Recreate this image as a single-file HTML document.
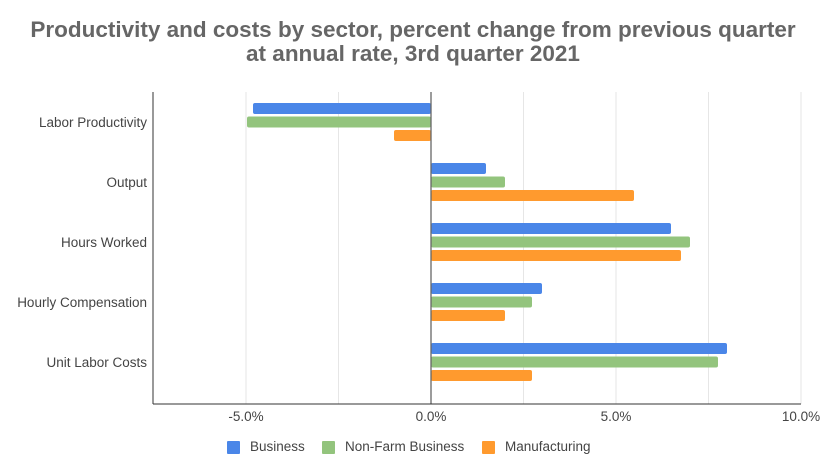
<!DOCTYPE html>
<html><head><meta charset="utf-8"><style>body{margin:0;background:#fff}svg{display:block}</style></head><body>
<svg width="825" height="476" xmlns="http://www.w3.org/2000/svg" font-family="Liberation Sans, Arial, sans-serif">
<rect width="825" height="476" fill="#fff"/>
<text x="413" y="37" text-anchor="middle" font-size="22.5" font-weight="bold" fill="#666">Productivity and costs by sector, percent change from previous quarter</text>
<text x="413" y="61" text-anchor="middle" font-size="22.5" font-weight="bold" fill="#666">at annual rate, 3rd quarter 2021</text>
<g stroke="#e6e6e6" stroke-width="1">
<line x1="246" y1="92" x2="246" y2="404"/><line x1="338.5" y1="92" x2="338.5" y2="404"/>
<line x1="523.5" y1="92" x2="523.5" y2="404"/><line x1="616" y1="92" x2="616" y2="404"/>
<line x1="708.5" y1="92" x2="708.5" y2="404"/><line x1="801" y1="92" x2="801" y2="404"/>
</g>
<g>
<rect x="253" y="103" width="178" height="11" rx="2" fill="#4a86e8"/>
<rect x="247" y="116.5" width="184" height="11" rx="2" fill="#93c47d"/>
<rect x="394" y="130" width="37" height="11" rx="2" fill="#ff9a2e"/>
<rect x="431" y="163" width="55" height="11" rx="2" fill="#4a86e8"/>
<rect x="431" y="176.5" width="74" height="11" rx="2" fill="#93c47d"/>
<rect x="431" y="190" width="203" height="11" rx="2" fill="#ff9a2e"/>
<rect x="431" y="223" width="240" height="11" rx="2" fill="#4a86e8"/>
<rect x="431" y="236.5" width="259" height="11" rx="2" fill="#93c47d"/>
<rect x="431" y="250" width="250" height="11" rx="2" fill="#ff9a2e"/>
<rect x="431" y="283" width="111" height="11" rx="2" fill="#4a86e8"/>
<rect x="431" y="296.5" width="101" height="11" rx="2" fill="#93c47d"/>
<rect x="431" y="310" width="74" height="11" rx="2" fill="#ff9a2e"/>
<rect x="431" y="343" width="296" height="11" rx="2" fill="#4a86e8"/>
<rect x="431" y="356.5" width="287" height="11" rx="2" fill="#93c47d"/>
<rect x="431" y="370" width="101" height="11" rx="2" fill="#ff9a2e"/>
</g>
<line x1="431" y1="92" x2="431" y2="404" stroke="#666" stroke-width="1.3"/>
<line x1="153" y1="92" x2="153" y2="404" stroke="#333" stroke-width="1"/>
<line x1="153" y1="404" x2="801" y2="404" stroke="#333" stroke-width="1"/>
<g font-size="13.5" fill="#444" text-anchor="end">
<text x="147" y="127">Labor Productivity</text>
<text x="147" y="187">Output</text>
<text x="147" y="247">Hours Worked</text>
<text x="147" y="307">Hourly Compensation</text>
<text x="147" y="367">Unit Labor Costs</text>
</g>
<g font-size="13.5" fill="#444" text-anchor="middle">
<text x="246" y="421">-5.0%</text><text x="431" y="421">0.0%</text>
<text x="616" y="421">5.0%</text><text x="801" y="421">10.0%</text>
</g>
<g font-size="13.5" fill="#444">
<rect x="227" y="441" width="13" height="13" rx="1" fill="#4a86e8"/><text x="250" y="451">Business</text>
<rect x="322" y="441" width="13" height="13" rx="1" fill="#93c47d"/><text x="345" y="451">Non-Farm Business</text>
<rect x="482" y="441" width="13" height="13" rx="1" fill="#ff9a2e"/><text x="505" y="451">Manufacturing</text>
</g>
</svg>
</body></html>
